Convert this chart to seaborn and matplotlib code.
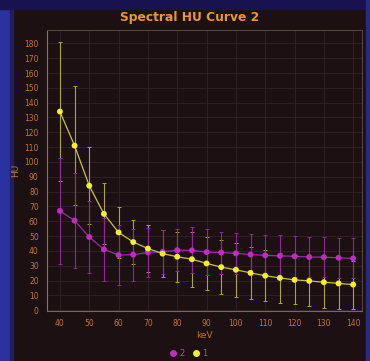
import numpy as np
import pandas as pd
import matplotlib
matplotlib.use("Agg")
import matplotlib.pyplot as plt
from matplotlib.patches import Rectangle
from matplotlib.lines import Line2D
import seaborn as sns

# ---- data ----
kev = [40, 45, 50, 55, 60, 65, 70, 75, 80, 85, 90, 95, 100, 105, 110, 115, 120, 125, 130, 135, 140]
hu_1 = [134, 111, 84, 65, 52.5, 46, 41.6, 38.2, 36.1, 34.4, 31.6, 29.1, 27.3, 25.2, 23.3, 21.8, 20.5, 19.8, 18.9, 18.1, 17.3]
sd_1 = [47, 40, 26, 20.5, 17, 14.8, 15.7, 16, 17, 18.7, 18.1, 18.4, 18.3, 17.7, 17, 16.6, 16.5, 17.1, 17.1, 17, 16.2]
hu_2 = [67, 60.5, 49.4, 41, 37.2, 37.5, 39, 39.4, 40.5, 40.4, 39.2, 38.9, 38.4, 37.6, 37.0, 36.7, 36.4, 35.9, 35.8, 35.4, 35.0]
sd_2 = [36, 32, 24.5, 21.5, 20, 17.5, 16.5, 15, 14, 15.5, 15.5, 14.2, 14, 14, 14, 14, 14, 13.5, 13.5, 13.5, 13.5]
x_ticks = list(range(40, 141, 10))
y_ticks = list(range(0, 181, 10))
title = "Spectral HU Curve 2"

df = pd.DataFrame({
    "keV": kev * 2,
    "HU": hu_2 + hu_1,
    "sd": sd_2 + sd_1,
    "series": ["2"] * len(kev) + ["1"] * len(kev),
})

bg = "#1c1013"
txt = "#c07530"
line_col = {"1": "#c9c23a", "2": "#9a2aa8"}
mark_col = {"1": "#f4ef2c", "2": "#c22ac4"}
bar_col = {"1": "#aaa63a", "2": "#8e2896"}

sns.set_theme(style="dark")
fig = plt.figure(figsize=(3.7, 3.61), dpi=100, facecolor=bg)

# photo-like blue surroundings
fig.add_artist(Rectangle((0, 0), 10 / 370, 1, transform=fig.transFigure, color="#2a32a0", zorder=0))
fig.add_artist(Rectangle((10 / 370, 0), 3 / 370, 1, transform=fig.transFigure, color="#221e5e", zorder=0))
fig.add_artist(Rectangle((0, 1 - 9 / 361), 1, 9 / 361, transform=fig.transFigure, color="#181250", zorder=0))
fig.add_artist(Rectangle((1 - 4 / 370, 0), 4 / 370, 1, transform=fig.transFigure, color="#2a2a80", zorder=0))

ax = fig.add_axes([47 / 370, 1 - 311 / 361, 315 / 370, 281 / 361])
ax.set_facecolor(bg)

# error bars
for s in ["1", "2"]:
    d = df[df.series == s]
    ax.errorbar(d["keV"], d["HU"], yerr=d["sd"], fmt="none", ecolor=bar_col[s],
                elinewidth=0.8, capsize=1.5, capthick=0.7, zorder=2 if s == "1" else 3)

# mean lines & markers via seaborn
for s, z in [("2", 4), ("1", 5)]:
    d = df[df.series == s]
    sns.lineplot(data=d, x="keV", y="HU", color=line_col[s], lw=0.9, ax=ax, zorder=z, legend=False)
    sns.scatterplot(data=d, x="keV", y="HU", color=mark_col[s], s=18, marker="o",
                    edgecolor="none", ax=ax, zorder=z + 0.5, legend=False)

ax.set_xlim(35.6, 143)
ax.set_ylim(-0.5, 189)
ax.set_xticks(x_ticks)
ax.set_yticks(y_ticks)
ax.tick_params(axis="both", labelsize=5.5, colors=txt, length=2, width=0.5, pad=4)
ax.tick_params(axis="both", color="#4a3a30")
ax.grid(True, color="#35262a", lw=0.5)
for sp in ax.spines.values():
    sp.set_color("#54453a")
    sp.set_linewidth(0.8)
ax.spines["left"].set_color("#8a7a40")
ax.spines["bottom"].set_color("#7a6a48")

ax.set_xlabel("keV", color=txt, fontsize=6.5, labelpad=2)
ax.set_ylabel("HU", color=txt, fontsize=6.5, labelpad=3)

fig.text(190 / 370, 1 - 18 / 361, title, color="#e8982e", fontsize=8.8,
         fontweight="bold", ha="center", va="center")

handles = [Line2D([], [], ls="none", marker="o", color=mark_col["2"], markersize=4),
           Line2D([], [], ls="none", marker="o", color=mark_col["1"], markersize=4)]
leg = fig.legend(handles, ["2", "1"], loc="center", bbox_to_anchor=(188 / 370, 1 - 353 / 361),
                 ncol=2, frameon=False, fontsize=6, handletextpad=0.3, columnspacing=0.8,
                 handlelength=1.0)
for t in leg.get_texts():
    t.set_color("#8a6a6a")

fig.savefig("out.png", dpi=100, facecolor=fig.get_facecolor())
